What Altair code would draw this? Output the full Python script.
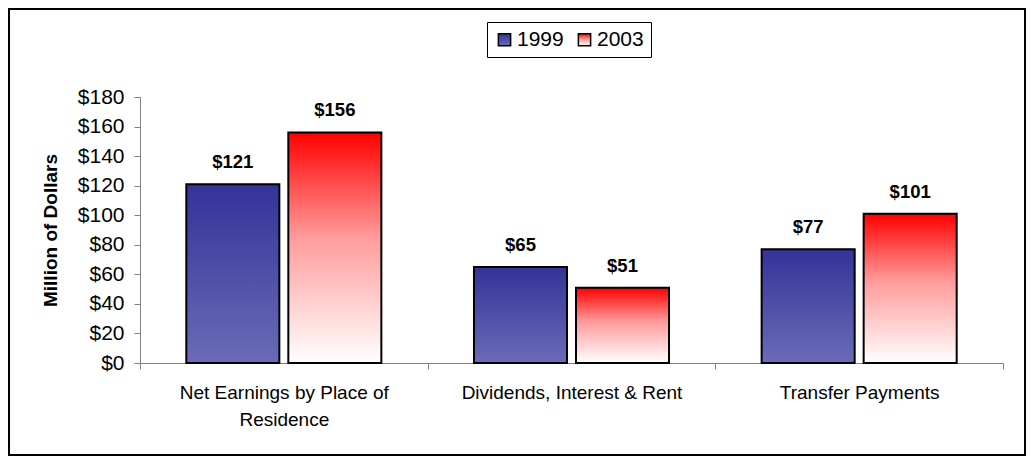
import altair as alt
import pandas as pd

categories = ["Net Earnings by Place of Residence", "Dividends, Interest & Rent", "Transfer Payments"]
years = ["1999", "2003"]
values_1999 = [121, 65, 77]
values_2003 = [156, 51, 101]
y_ticks = [0, 20, 40, 60, 80, 100, 120, 140, 160, 180]

rows = []
for c, v in zip(categories, values_1999):
    rows.append({"category": c, "year": "1999", "value": v})
for c, v in zip(categories, values_2003):
    rows.append({"category": c, "year": "2003", "value": v})
df = pd.DataFrame(rows)

FONT = "Liberation Sans"
W, H = 863, 266
PAD = {"left": 132, "top": 89, "right": 23, "bottom": 93}

blue_grad = ("{gradient: 'linear', x1: 0, y1: 0, x2: 0, y2: 1, "
             "stops: [{offset: 0, color: '#333399'}, {offset: 1, color: '#6b6bb8'}]}")
red_grad = ("{gradient: 'linear', x1: 0, y1: 0, x2: 0, y2: 1, "
            "stops: [{offset: 0, color: '#ff0000'}, {offset: 0.45, color: '#ff9a9a'}, {offset: 1, color: '#ffffff'}]}")

x_enc = alt.X(
    "category:N", sort=categories,
    scale=alt.Scale(paddingInner=0, paddingOuter=0),
    axis=alt.Axis(
        title=None, labelAngle=0, tickBand="extent", tickSize=6,
        labelPadding=14, labelFontSize=19, labelFont=FONT, labelColor="black",
        labelLineHeight=27, labelBaseline="top",
        labelExpr="datum.value == 'Net Earnings by Place of Residence' ? ['Net Earnings by Place of', 'Residence'] : datum.value",
        domainColor="#808080", tickColor="#808080", labelLimit=400,
    ),
)
xoff = alt.XOffset("year:N", sort=years,
                   scale=alt.Scale(paddingInner=0.088, paddingOuter=0.454))
y_enc = alt.Y(
    "value:Q",
    scale=alt.Scale(domain=[0, 180], nice=False),
    axis=alt.Axis(
        values=y_ticks, labelExpr="'$' + datum.value", grid=False,
        labelOverlap=False, labelFlush=False,
        title="Million of Dollars", titleFont=FONT, titleFontSize=19, titleFontWeight="bold",
        titleColor="black", titleAngle=-90, titleX=-90, titleY=H / 2,
        titleAlign="center", titleBaseline="middle",
        labelFont=FONT, labelFontSize=21, labelColor="black", labelPadding=10,
        tickSize=6, domainColor="#808080", tickColor="#808080",
    ),
)

base = alt.Chart(df).transform_calculate(
    label="'$' + datum.value"
).encode(x=x_enc, xOffset=xoff, y=y_enc)

bars = base.mark_bar(stroke="black", strokeWidth=2).encode(
    fill=alt.Fill(
        "year:N", sort=years,
        scale=alt.Scale(domain=years, range=[alt.ExprRef(expr=blue_grad), alt.ExprRef(expr=red_grad)]),
        legend=alt.Legend(
            title=None, orient="none", legendX=347, legendY=-75, direction="horizontal",
            strokeColor="black", padding=7, symbolType="square", symbolSize=150,
            symbolStrokeColor="black", symbolStrokeWidth=1.5,
            labelFont=FONT, labelFontSize=21, labelColor="black", columnPadding=10, labelOffset=2,
        ),
    ),
)

labels = base.mark_text(
    font=FONT, fontSize=18.5, fontWeight="bold", baseline="bottom", dy=-12, color="black"
).encode(text="label:N")

frame = alt.Chart(pd.DataFrame({"a": [0]})).mark_rect(
    fill="transparent", stroke="black", strokeWidth=2
).encode(
    x=alt.value(-131), x2=alt.value(W + PAD["right"] - 1),
    y=alt.value(-88), y2=alt.value(H + PAD["bottom"] - 1),
)

chart = alt.layer(frame, bars, labels).properties(
    width=W, height=H,
    autosize=alt.AutoSizeParams(type="none"),
    padding=PAD,
).configure(background="white").configure_view(stroke=None)

chart.save("out.html", embed_options={"renderer": "svg", "actions": False})
